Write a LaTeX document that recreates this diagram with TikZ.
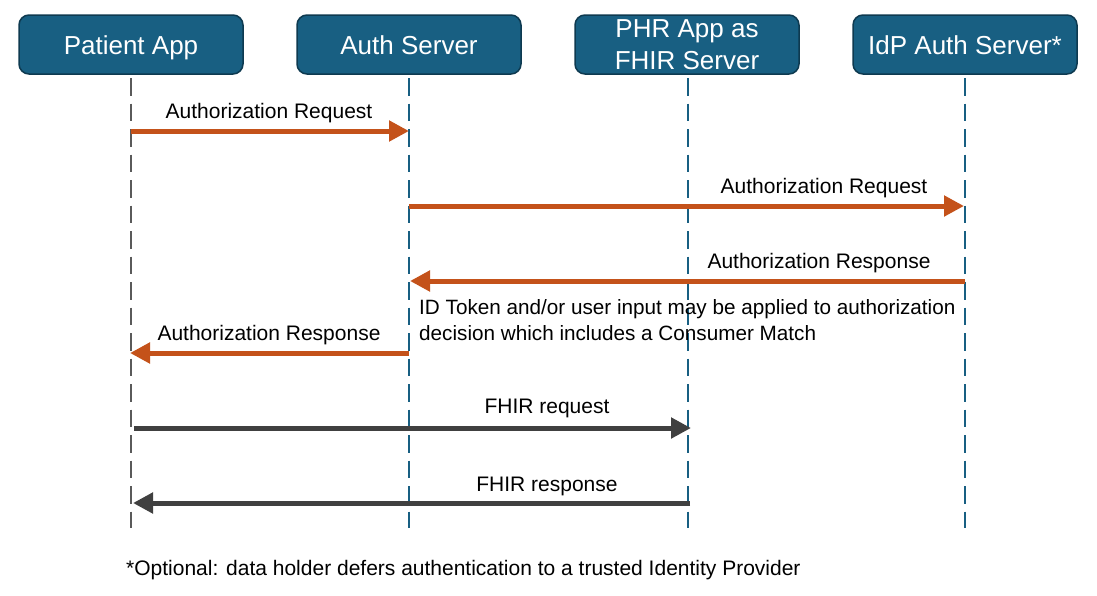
\documentclass[tikz,border=0pt]{standalone}
\usepackage{fontspec}
\setmainfont{Liberation Sans}
\usetikzlibrary{arrows.meta}
\definecolor{boxfill}{HTML}{185F82}
\definecolor{boxedge}{HTML}{0E3A50}
\definecolor{lineblue}{HTML}{185F82}
\definecolor{linegray}{HTML}{5A5A5A}
\definecolor{msgorange}{HTML}{C4521A}
\definecolor{msggray}{HTML}{404040}
\tikzset{
  actor/.style={draw=boxedge, line width=1.5pt, fill=boxfill, rounded corners=10pt,
    minimum width=224pt, minimum height=59pt, text=white, align=center,
    font=\fontsize{26}{32}\selectfont, inner sep=0pt},
  oneline/.style={text height=19pt, text depth=0pt},
  lifeline/.style={line width=1.8pt, dash pattern=on 17.5pt off 8pt},
  msg/.style={line width=5pt, -{Triangle[length=20pt,width=20pt]}},
  lbl/.style={font=\fontsize{21}{26}\selectfont, text=black, inner sep=0pt},
}
\begin{document}
\begin{tikzpicture}[x=1pt,y=-1pt]
\useasboundingbox (0,0) rectangle (1097,595);
\fill[white] (0,0) rectangle (1097,595);
% actors
\node[actor, oneline] (pa) at (131,44.5) {Patient App};
\node[actor, oneline] (as) at (409,44.5) {Auth Server};
\node[actor] (phr) at (687,44.5) {PHR App as\\FHIR Server};
\node[actor, oneline] (idp) at (965,44.5) {IdP Auth Server*};
% lifeline ends
\coordinate (paE) at (131,528);
\coordinate (asE) at (409,528);
\coordinate (phrE) at (688,528);
\coordinate (idpE) at (965,528);
\draw[lifeline, linegray] (131,78) -- (paE);
\draw[lifeline, lineblue] (409,78) -- (asE);
\draw[lifeline, lineblue] (688,78) -- (phrE);
\draw[lifeline, lineblue] (965,78) -- (idpE);
% message points
\coordinate (m1a) at (131,131); \coordinate (m1b) at (409,131);
\coordinate (m2a) at (409,206); \coordinate (m2b) at (964,206);
\coordinate (m3a) at (965,281); \coordinate (m3b) at (410,281);
\coordinate (m5a) at (409,353); \coordinate (m5b) at (130,353);
\coordinate (m6a) at (134,428); \coordinate (m6b) at (691,428);
\coordinate (m7a) at (690,503); \coordinate (m7b) at (133,503);
\draw[msg, msgorange] (m1a) -- (m1b);
\draw[msg, msgorange] (m2a) -- (m2b);
\draw[msg, msgorange] (m3a) -- (m3b);
\draw[msg, msgorange] (m5a) -- (m5b);
\draw[msg, msggray] (m6a) -- (m6b);
\draw[msg, msggray] (m7a) -- (m7b);
% labels
\node[lbl] (l1) at (269,113) {Authorization Request};
\node[lbl] (l2) at (824,188) {Authorization Request};
\node[lbl] (l3) at (819,263) {Authorization Response};
\node[lbl, anchor=west, align=left, font=\fontsize{20.7}{26}\selectfont] (l4) at (419,320) {ID Token and/or user input may be applied to authorization\\decision which includes a Consumer Match};
\node[lbl] (l5) at (269,335) {Authorization Response};
\node[lbl] (l6) at (547,408) {FHIR request};
\node[lbl] (l7) at (547,486) {FHIR response};
\node[lbl, anchor=west] (fn) at (126,570) {*Optional: data holder defers authentication to a trusted Identity Provider};
\end{tikzpicture}
\end{document}
